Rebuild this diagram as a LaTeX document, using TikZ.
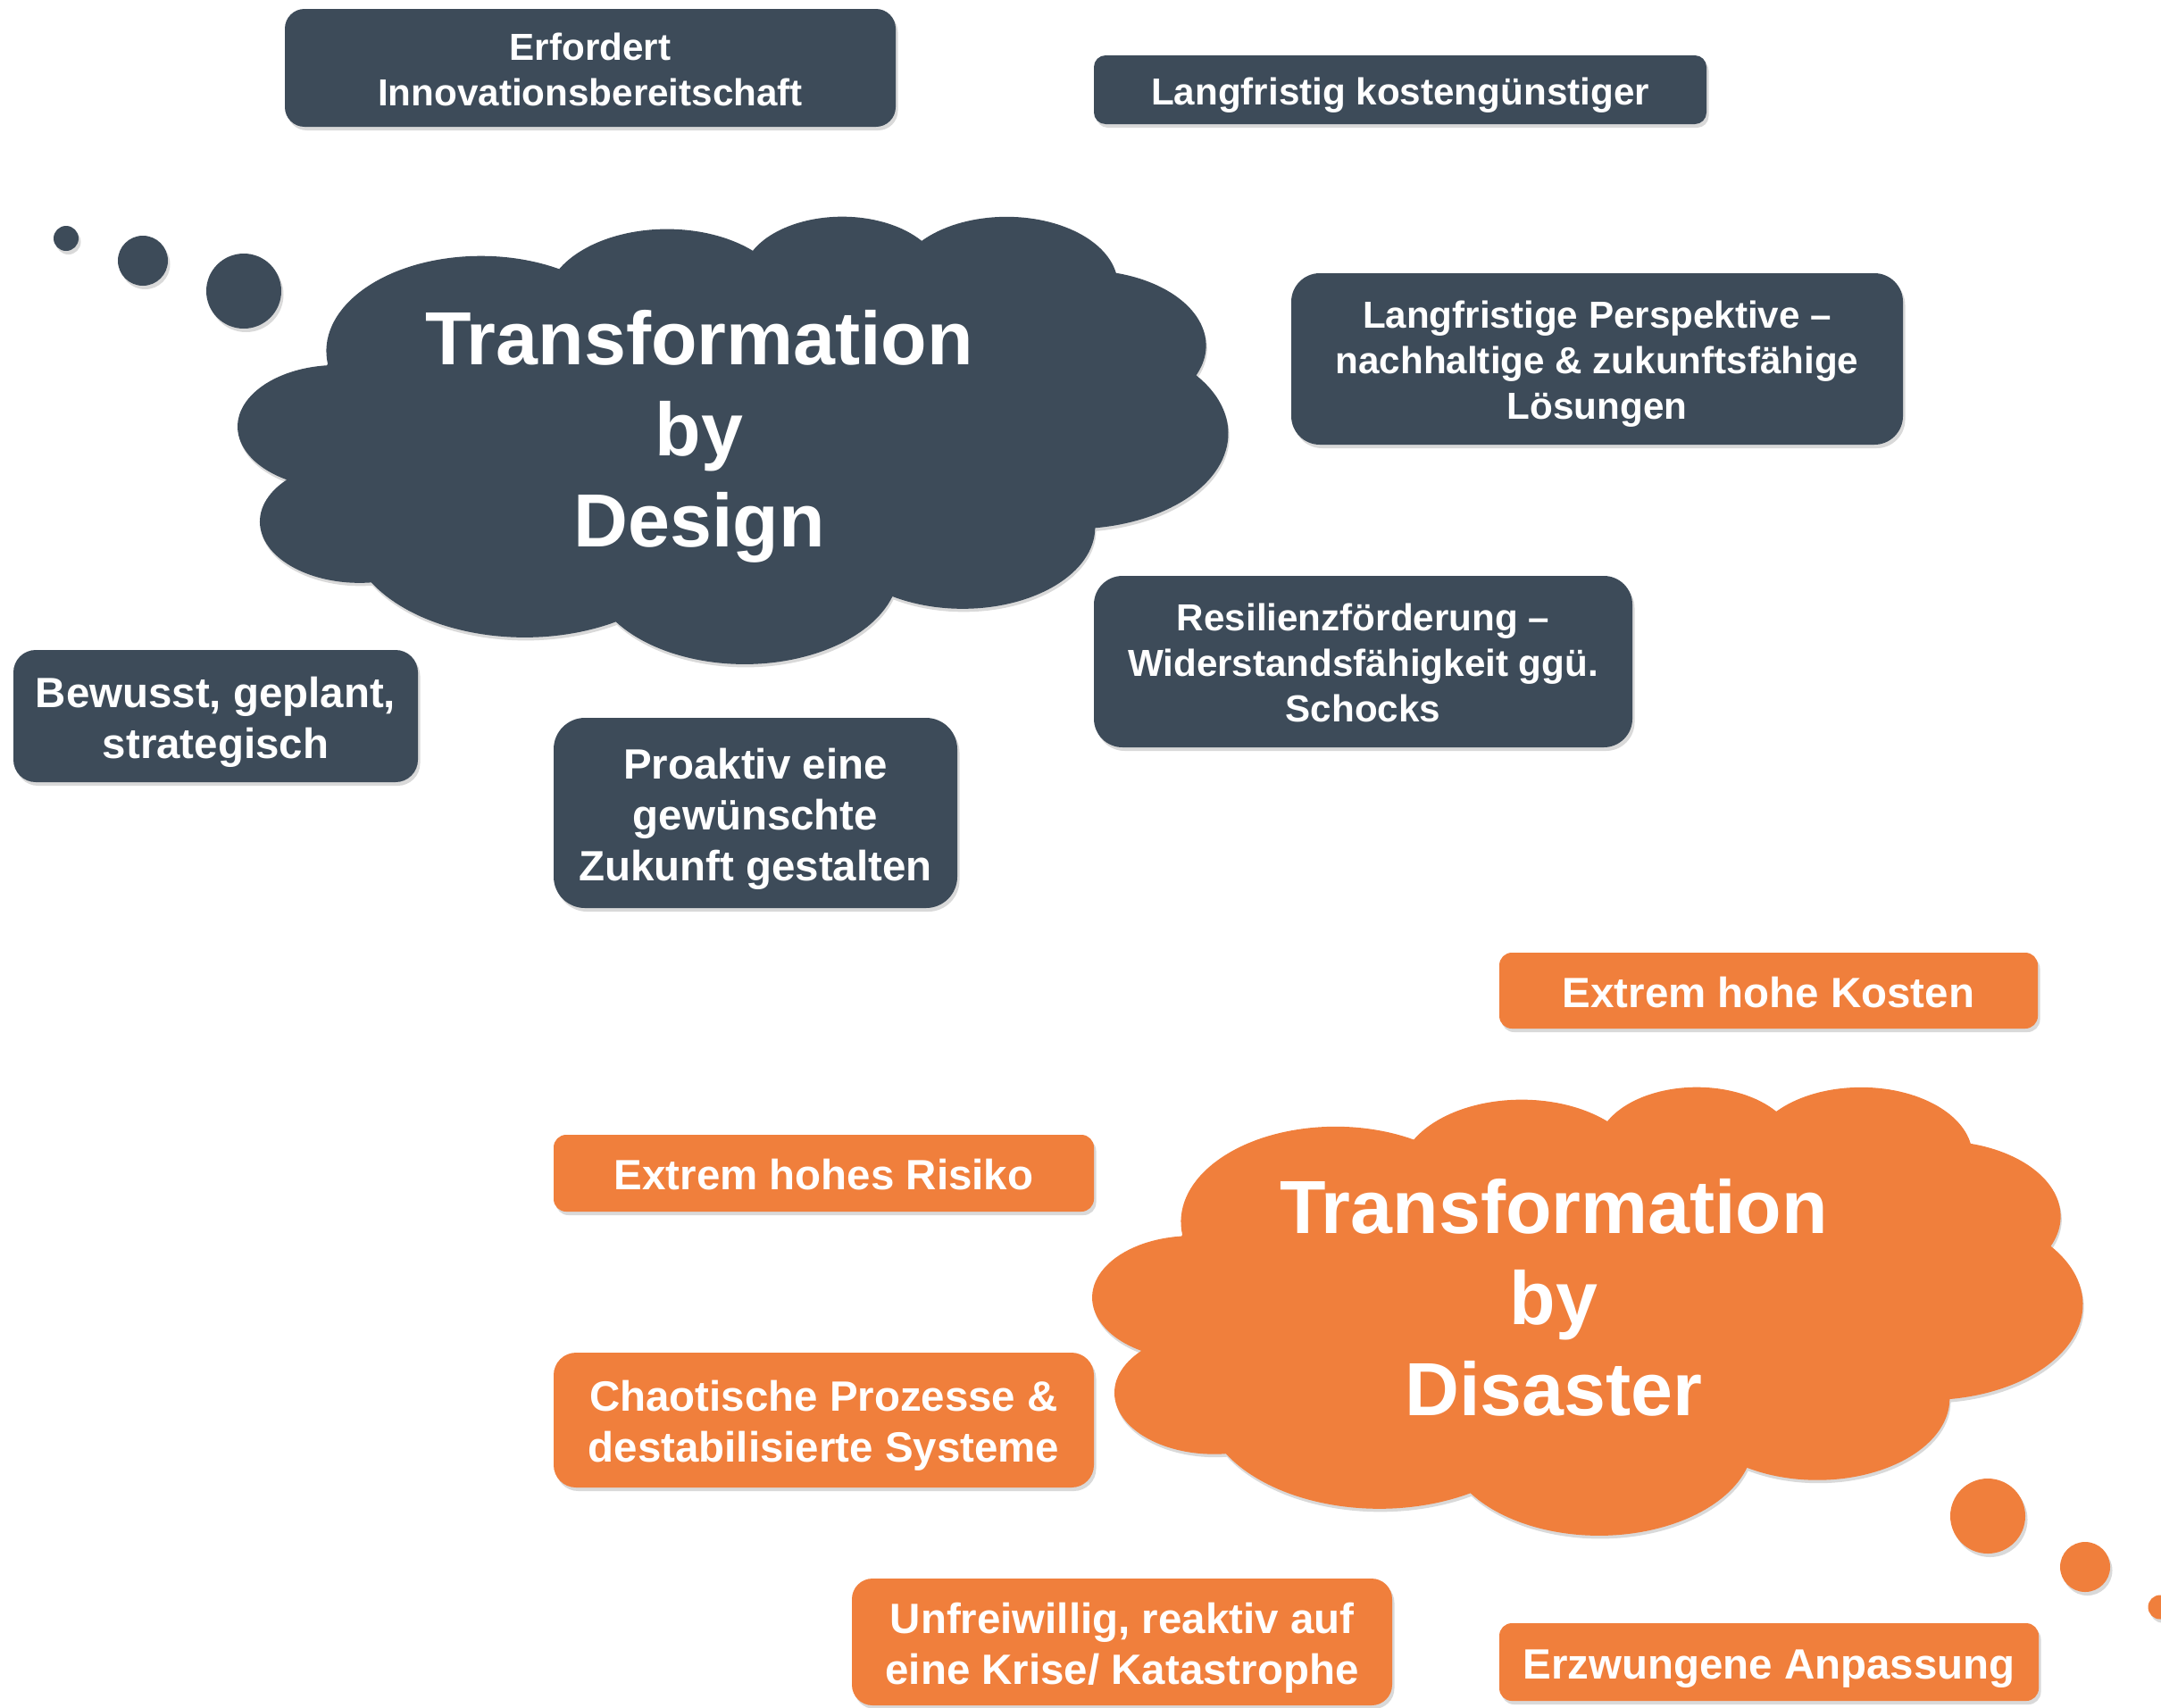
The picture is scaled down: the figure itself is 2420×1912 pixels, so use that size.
\documentclass[tikz,border=0pt]{standalone}
\usepackage{fontspec}
\setmainfont{Liberation Sans}
\usetikzlibrary{shadows}
\definecolor{slate}{RGB}{61,75,89}
\definecolor{tangerine}{RGB}{240,127,60}
\newcommand{\ascent}{\rule{0pt}{1em}}

% cloud outline on a 432 x 432 grid (y pointing down)
\newcommand{\thoughtcloud}[2]{%
	\begin{scope}[#2]
		\fill[#1, drop shadow={shadow xshift=.12mm, shadow yshift=-.35mm, opacity=.3}] (39,143.7)
			arc[x radius=67.53, y radius=91.90, start angle=-187.75, end angle=-59.63]
			arc[x radius=53.33, y radius=72.67, start angle=-152.02, end angle=-45.43]
			arc[x radius=43.65, y radius=59.45, start angle=-153.48, end angle=-37.33]
			arc[x radius=48.57, y radius=65.95, start angle=-139.69, end angle=-10.21]
			arc[x radius=53.33, y radius=72.73, start angle=-74.77, end angle=23.21]
			arc[x radius=67.75, y radius=92.20, start angle=-37.53, end angle=81.86]
			arc[x radius=57.85, y radius=78.67, start angle=0.46, end angle=121.98]
			arc[x radius=67.52, y radius=92.15, start angle=16.84, end angle=146.25]
			arc[x radius=77.20, y radius=105.43, start angle=58.98, end angle=150.20]
			arc[x radius=43.60, y radius=59.18, start angle=83.31, end angle=223.12]
			arc[x radius=43.45, y radius=59.45, start angle=120.36, end angle=264.11]
			-- cycle;
	\end{scope}}

\begin{document}
\begin{tikzpicture}[x=0.1mm, y=-0.1mm,
		card/.style={align=center, text=white, inner sep=0pt,
			font=\bfseries\fontsize{12}{14.5}\selectfont,
			execute at begin node={\ascent},
			execute at end node={\rule[-0.212em]{0pt}{0pt}},
			drop shadow={shadow xshift=.25mm, shadow yshift=-.4mm, opacity=.3}},
		darkcard/.style={card, fill=slate},
		orangecard/.style={card, fill=tangerine},
		large/.style={font=\bfseries\fontsize{13.5}{16.2}\selectfont},
		title/.style={align=center, text=white, inner sep=0pt,
			font=\bfseries\fontsize{24}{29}\selectfont},
		bubble/.style={drop shadow={shadow xshift=.25mm, shadow yshift=-.4mm, opacity=.3}}]
	\useasboundingbox (0,0) rectangle (2420,1912);

	% clouds
	\thoughtcloud{slate}{shift={(267,241)}, xscale=2.5648, yscale=1.1597}
	\thoughtcloud{tangerine}{shift={(1224,1216)}, xscale=2.5648, yscale=1.1620}
	\node[title] (design) at (783,489) {Transformation\\by\\Design};
	\node[title] (disaster) at (1740,1453) {Transformation\\by\\Disaster};

	% thought bubbles
	\fill[slate, bubble] (74,267) circle[radius=14];
	\fill[slate, bubble] (160,292) circle[radius=28];
	\fill[slate, bubble] (273,326) circle[radius=42];
	\fill[tangerine, bubble] (2226,1698) circle[radius=42];
	\fill[tangerine, bubble] (2335,1755) circle[radius=28];
	\fill[tangerine, bubble] (2419,1800) circle[radius=13.5];

	% by design
	\node[darkcard, minimum width=68.4mm, minimum height=13.2mm, rounded corners=2.2mm] (innovation) at (661,76) {\ascent Erfordert\\Innovationsbereitschaft};
	\node[darkcard, minimum width=68.6mm, minimum height=7.7mm, rounded corners=1.3mm] (cheap) at (1568,100.5) {Langfristig kostengünstiger};
	\node[darkcard, minimum width=68.5mm, minimum height=19.2mm, rounded corners=3.2mm] (longterm) at (1788.5,402) {\ascent Langfristige Perspektive –\\nachhaltige \& zukunftsfähige\\Lösungen};
	\node[darkcard, minimum width=60.3mm, minimum height=19.2mm, rounded corners=3.2mm] (resilience) at (1526.5,741) {\ascent Resilienzförderung –\\Widerstandsfähigkeit ggü.\\Schocks};
	\node[darkcard, large, minimum width=45.3mm, minimum height=14.8mm, rounded corners=2.5mm] (planned) at (241.5,802) {\ascent Bewusst, geplant,\\strategisch};
	\node[darkcard, large, minimum width=45.2mm, minimum height=21.3mm, rounded corners=3.5mm] (proactive) at (846,910.5) {\ascent Proaktiv eine\\gewünschte\\Zukunft gestalten};

	% by disaster
	\node[orangecard, large, minimum width=60.3mm, minimum height=8.5mm, rounded corners=1.4mm] (costs) at (1980.5,1109.5) {Extrem hohe Kosten};
	\node[orangecard, large, minimum width=60.5mm, minimum height=8.6mm, rounded corners=1.4mm] (risk) at (922.5,1314) {Extrem hohes Risiko};
	\node[orangecard, large, minimum width=60.5mm, minimum height=15.1mm, rounded corners=2.5mm] (chaos) at (922.5,1590.5) {\ascent Chaotische Prozesse \&\\destabilisierte Systeme};
	\node[orangecard, large, minimum width=60.5mm, minimum height=14.2mm, rounded corners=2.3mm] (crisis) at (1256.5,1839) {\ascent Unfreiwillig, reaktiv auf\\eine Krise/ Katastrophe};
	\node[orangecard, large, minimum width=60.4mm, minimum height=8.7mm, rounded corners=1.4mm] (forced) at (1981,1861.5) {Erzwungene Anpassung};
\end{tikzpicture}
\end{document}
